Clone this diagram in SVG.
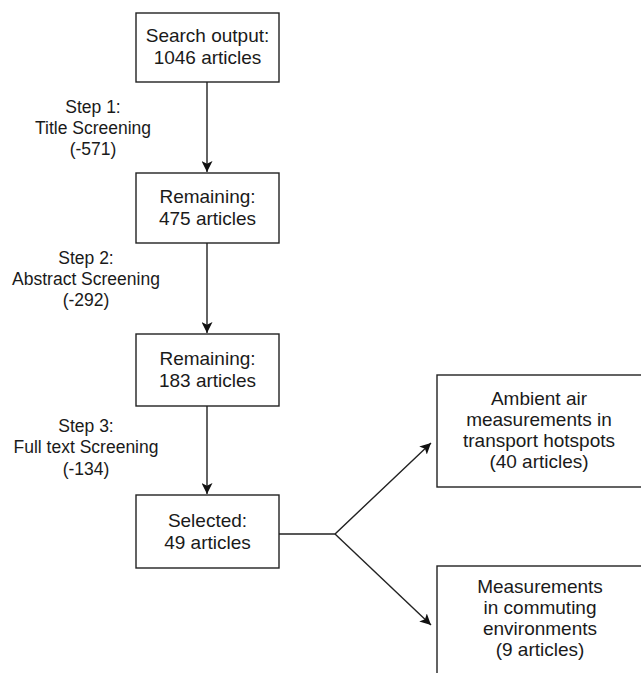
<svg xmlns="http://www.w3.org/2000/svg" width="641" height="673" viewBox="0 0 641 673">
<style>
.box{fill:#fff;stroke:#222;stroke-width:1.4}
.t{font-family:"Liberation Sans",Arial,Helvetica,sans-serif;font-size:19px;fill:#1a1a1a;text-anchor:middle}
.l{font-family:"Liberation Sans",Arial,Helvetica,sans-serif;font-size:17.5px;fill:#1a1a1a;text-anchor:middle}
.c{fill:none;stroke:#222;stroke-width:1.4}
</style>
<defs>
<marker id="ah" viewBox="0 0 10 10" refX="10" refY="5" markerWidth="11" markerHeight="11" markerUnits="userSpaceOnUse" orient="auto">
<path d="M0,0 L10,5 L0,10 L2.5,5 Z" fill="#111"/>
</marker>
</defs>
<rect width="641" height="673" fill="#fff"/>
<g id="connectors">
<line class="c" x1="207" y1="82" x2="207" y2="172" marker-end="url(#ah)"/>
<line class="c" x1="207" y1="243" x2="207" y2="333" marker-end="url(#ah)"/>
<line class="c" x1="207" y1="406" x2="207" y2="494" marker-end="url(#ah)"/>
<polyline class="c" points="279,534 335,534 431,443" marker-end="url(#ah)"/>
<polyline class="c" points="335,534 431,625" marker-end="url(#ah)"/>
</g>
<g id="n1">
<rect class="box" x="136" y="13" width="143" height="69"/>
<text class="t" x="207.5" y="42">Search output:</text>
<text class="t" x="207.5" y="64">1046 articles</text>
</g>
<g id="n2">
<rect class="box" x="136" y="173" width="143" height="70"/>
<text class="t" x="207.5" y="203">Remaining:</text>
<text class="t" x="207.5" y="225">475 articles</text>
</g>
<g id="n3">
<rect class="box" x="136" y="334" width="143" height="72"/>
<text class="t" x="207.5" y="365">Remaining:</text>
<text class="t" x="207.5" y="387">183 articles</text>
</g>
<g id="n4">
<rect class="box" x="136" y="495" width="143" height="73"/>
<text class="t" x="207.5" y="527">Selected:</text>
<text class="t" x="207.5" y="549">49 articles</text>
</g>
<g id="n5">
<rect class="box" x="437" y="375" width="212" height="112"/>
<text class="t" x="539" y="405">Ambient air</text>
<text class="t" x="539" y="426">measurements in</text>
<text class="t" x="539" y="447">transport hotspots</text>
<text class="t" x="539" y="468">(40 articles)</text>
</g>
<g id="n6">
<rect class="box" x="437" y="566" width="212" height="120"/>
<text class="t" x="540" y="593">Measurements</text>
<text class="t" x="540" y="614">in commuting</text>
<text class="t" x="540" y="635">environments</text>
<text class="t" x="540" y="656">(9 articles)</text>
</g>
<g id="step1">
<text class="l" x="93" y="113">Step 1:</text>
<text class="l" x="93" y="134">Title Screening</text>
<text class="l" x="93" y="155">(-571)</text>
</g>
<g id="step2">
<text class="l" x="86" y="264">Step 2:</text>
<text class="l" x="86" y="285">Abstract Screening</text>
<text class="l" x="86" y="306">(-292)</text>
</g>
<g id="step3">
<text class="l" x="86" y="432">Step 3:</text>
<text class="l" x="86" y="453">Full text Screening</text>
<text class="l" x="86" y="475">(-134)</text>
</g>
</svg>
